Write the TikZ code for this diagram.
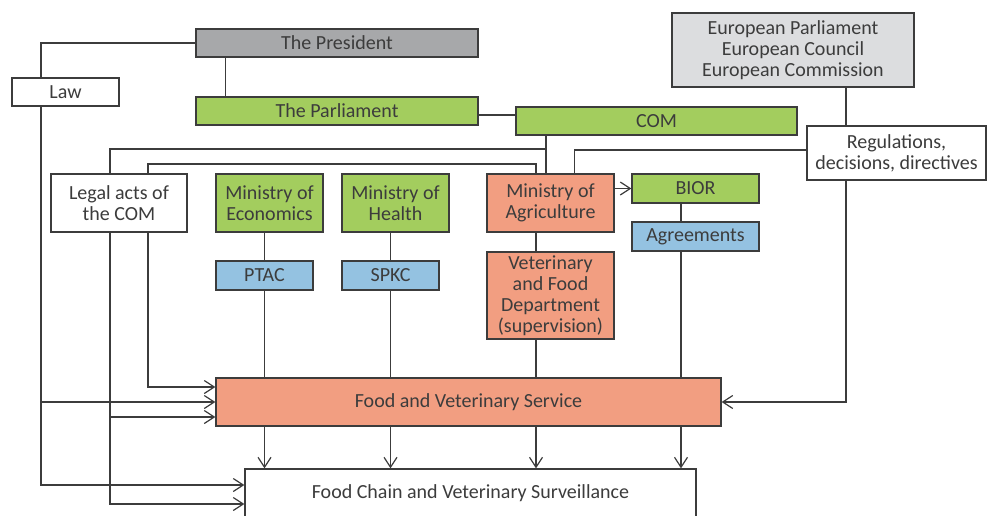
\documentclass[tikz,border=0pt]{standalone}
\usepackage{fontspec}
\setmainfont{Carlito}
\usetikzlibrary{arrows.meta}
\definecolor{presgray}{HTML}{A7A8AA}
\definecolor{eugray}{HTML}{DCDDDF}
\definecolor{boxgreen}{HTML}{A3CD5E}
\definecolor{boxsalmon}{HTML}{F29E81}
\definecolor{boxblue}{HTML}{94C2E1}
\definecolor{linegray}{HTML}{3C3C3C}

\begin{document}
\begin{tikzpicture}[x=1pt,y=-1pt,inner sep=0pt,color=linegray,line width=1.2pt,
    >={Straight Barb[length=10pt,width=13pt]}]
    \tikzstyle{unit}=[rectangle,draw=linegray,line width=1.3pt,fill=white,align=center,
        font=\fontsize{20}{21}\selectfont]
    \clip (0,0) rectangle (987,515);

    \node[unit,fill=presgray,minimum width=282pt,minimum height=28pt] (pres) at (337,43) {The President};
    \node[unit,minimum width=107pt,minimum height=28pt] (law) at (65.5,92) {Law};
    \node[unit,fill=boxgreen,minimum width=282pt,minimum height=28pt] (parl) at (337,111) {The Parliament};
    \node[unit,fill=boxgreen,minimum width=281pt,minimum height=28pt] (com) at (656.5,121) {COM};
    \node[unit,fill=eugray,minimum width=242pt,minimum height=74pt] (eu) at (793,50)
        {European Parliament\\European Council\\European Commission};
    \node[unit,minimum width=179pt,minimum height=54pt] (regs) at (896.5,153)
        {Regulations,\\decisions, directives};

    \node[unit,minimum width=136pt,minimum height=58pt] (legal) at (119,203) {Legal acts of\\the COM};
    \node[unit,fill=boxgreen,minimum width=107pt,minimum height=58pt] (econ) at (269.5,203) {Ministry of\\Economics};
    \node[unit,fill=boxgreen,minimum width=107pt,minimum height=58pt] (health) at (395.5,203) {Ministry of\\Health};
    \node[unit,fill=boxsalmon,minimum width=127pt,minimum height=58pt] (agri) at (550.5,203) {Ministry of\\Agriculture};
    \node[unit,fill=boxgreen,minimum width=127pt,minimum height=29pt] (bior) at (695.5,188.5) {BIOR};
    \node[unit,fill=boxblue,minimum width=127pt,minimum height=29pt] (agree) at (695.5,236.5) {Agreements};
    \node[unit,fill=boxblue,minimum width=97pt,minimum height=29pt] (ptac) at (264.5,275.5) {PTAC};
    \node[unit,fill=boxblue,minimum width=97pt,minimum height=29pt] (spkc) at (390.5,275.5) {SPKC};
    \node[unit,fill=boxsalmon,minimum width=127pt,minimum height=87pt] (vfd) at (550.5,295.5)
        {Veterinary\\and Food\\Department\\(supervision)};

    \node[unit,fill=boxsalmon,minimum width=505pt,minimum height=48pt] (fvs) at (468.5,402) {Food and Veterinary Service};
    \node[unit,minimum width=451pt,minimum height=48pt] (chain) at (470.5,493) {Food Chain and Veterinary Surveillance};

    % bus corners and columns
    \coordinate (lx) at (41,43);
    \coordinate (cx) at (110,149);
    \coordinate (comx) at (546,149);
    \coordinate (ax) at (148,164);
    \coordinate (rx) at (846,0);
    \coordinate (c3) at (536,0);
    \coordinate (c4) at (681,0);

    % president, law
    \draw (pres.west) -- (lx) -- (law.north -| lx);
    \draw[->] (law.south -| lx) |- (fvs.west);
    \draw[->] (law.south -| lx) |- ([yshift=8pt]chain.west);
    \draw ([xshift=30pt]pres.south west) -- ([xshift=30pt]parl.north west);
    \draw ([yshift=-4pt]parl.east) -- ([yshift=-4pt]parl.east -| com.west);

    % COM and its legal acts
    \draw (com.south -| comx) -- (agri.north -| comx);
    \draw (comx) -- (cx) -- (legal.north -| cx);
    \draw[->] (legal.south -| cx) |- ([yshift=-15pt]fvs.west);
    \draw[->] (legal.south -| cx) |- ([yshift=-11pt]chain.west);

    % ministry of agriculture
    \draw (c3 |- agri.north) |- (ax) -- (legal.north -| ax);
    \draw[->] (legal.south -| ax) |- ([yshift=15pt]fvs.west);
    \draw[->] (agri.east |- bior.west) -- (bior.west);
    \draw (c3 |- agri.south) -- (c3 |- vfd.north);
    \draw (c3 |- vfd.south) -- (c3 |- fvs.north);

    % EU level
    \draw (eu.south -| rx) -- (regs.north -| rx);
    \draw[->] (regs.south -| rx) |- (fvs.east);
    \draw ([yshift=3pt]regs.west) -| ([xshift=24pt]agri.north);

    % other ministries
    \draw (econ.south -| ptac.north) -- (ptac.north);
    \draw (health.south -| spkc.north) -- (spkc.north);
    \draw (c4 |- bior.south) -- (c4 |- agree.north);
    \foreach \n in {ptac,spkc} {
        \draw (\n.south) -- (fvs.north -| \n.south);
    };
    \draw (c4 |- agree.south) -- (c4 |- fvs.north);
    \foreach \n in {ptac,spkc,c3,c4} {
        \draw[->] (fvs.south -| \n) -- (chain.north -| \n);
    };
\end{tikzpicture}
\end{document}
